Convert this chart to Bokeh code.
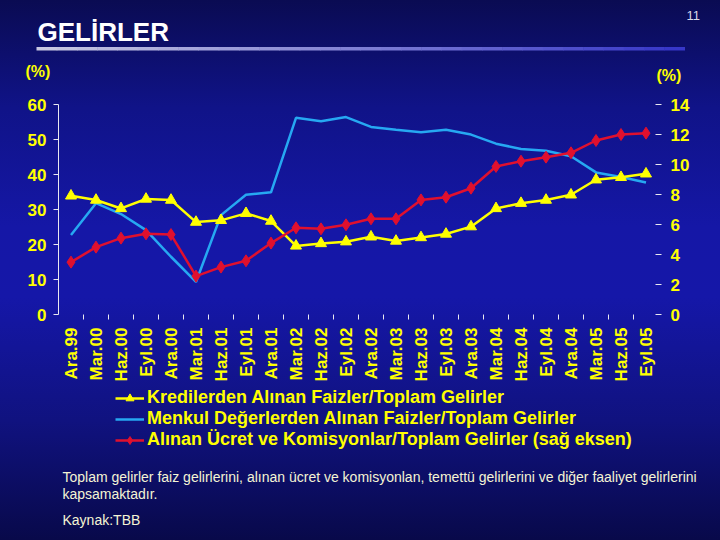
import math
from bokeh.plotting import figure
from bokeh.models import (Range1d, LinearAxis, FixedTicker, Label, BoxAnnotation,
                          Legend, LegendItem)
from bokeh.embed import file_html
from bokeh.resources import INLINE

periods = ["Ara.99", "Mar.00", "Haz.00", "Eyl.00", "Ara.00", "Mar.01", "Haz.01", "Eyl.01",
           "Ara.01", "Mar.02", "Haz.02", "Eyl.02", "Ara.02", "Mar.03", "Haz.03", "Eyl.03",
           "Ara.03", "Mar.04", "Haz.04", "Eyl.04", "Ara.04", "Mar.05", "Haz.05", "Eyl.05"]
kredi = [33.9, 32.7, 30.3, 33.0, 32.7, 26.4, 26.9, 28.9, 26.7, 19.6, 20.3, 20.8,
         22.2, 21.0, 22.0, 23.0, 25.1, 30.3, 31.8, 32.7, 34.2, 38.5, 39.2, 40.2]
menkul = [22.7, 31.8, 28.7, 24.1, 16.5, 9.3, 28.4, 34.2, 34.9, 56.2, 55.2, 56.4,
          53.6, 52.8, 52.1, 52.8, 51.4, 48.8, 47.3, 46.8, 45.2, 40.6, 39.3, 37.7]
ucret = [3.49, 4.49, 5.09, 5.38, 5.33, 2.56, 3.16, 3.58, 4.76, 5.78, 5.71, 5.98,
         6.38, 6.38, 7.64, 7.82, 8.42, 9.87, 10.22, 10.49, 10.78, 11.6, 12.0, 12.09]
left_ticks = [0, 10, 20, 30, 40, 50, 60]
right_ticks = [0, 2, 4, 6, 8, 10, 12, 14]
series_names = ["Kredilerden Alınan Faizler/Toplam Gelirler",
                "Menkul Değerlerden Alınan Faizler/Toplam Gelirler",
                "Alınan Ücret ve Komisyonlar/Toplam Gelirler (sağ eksen)"]
title_text = "GELİRLER"
page_no = "11"
note1 = "Toplam gelirler faiz gelirlerini, alınan ücret ve komisyonlan, temettü gelirlerini ve diğer faaliyet gelirlerini"
note2 = "kapsamaktadır."
source = "Kaynak:TBB"

W, H = 720, 540
# plot area in page pixels: x 58..658, y 104 (top) .. 314 (bottom)
PX_L, PX_R, PX_T, PX_B = 58, 658, 104, 314
n = len(periods)
kx = (PX_R - PX_L) / n
ky_l = (PX_B - PX_T) / 60.0
ky_r = (PX_B - PX_T) / 14.0

YELLOW = "#ffff00"
BLUE = "#26a8f2"
RED = "#e0102e"
FONT = "Liberation Sans"
WHITE_T = "#e8e8f0"

xs = [i + 0.5 for i in range(n)]

p = figure(width=W, height=H, output_backend="svg", toolbar_location=None,
           x_range=Range1d(-PX_L / kx, n + (W - PX_R) / kx),
           y_range=Range1d(-(H - PX_B) / ky_l, PX_B / ky_l),
           x_axis_location=None, y_axis_location=None,
           min_border=0, min_border_left=0, min_border_right=0,
           min_border_top=0, min_border_bottom=0)
p.styles = {"background": "linear-gradient(to bottom, #0a0b52 0%, #101388 20%, "
                          "#1517a6 42%, #1517a8 55%, #10127f 78%, #08094a 100%)"}
p.background_fill_alpha = 0
p.border_fill_alpha = 0
p.outline_line_color = None
p.xgrid.visible = False
p.ygrid.visible = False
p.extra_y_ranges = {"right": Range1d(-(H - PX_B) / ky_r, PX_B / ky_r)}

# left axis
ya = LinearAxis(ticker=FixedTicker(ticks=left_ticks), fixed_location=0, bounds=(0, 60))
ya.axis_line_color = WHITE_T
ya.major_tick_line_color = WHITE_T
ya.major_tick_out = 5
ya.major_tick_in = 0
ya.minor_tick_line_color = None
ya.major_label_standoff = 7
ya.major_label_text_color = YELLOW
ya.major_label_text_font = FONT
ya.major_label_text_font_style = "bold"
ya.major_label_text_font_size = "17px"
p.add_layout(ya, "left")

# right axis
ra = LinearAxis(y_range_name="right", ticker=FixedTicker(ticks=right_ticks),
                fixed_location=n, bounds=(0, 14))
ra.axis_line_color = None
ra.major_tick_line_color = WHITE_T
ra.major_tick_out = 3
ra.major_tick_in = 3
ra.minor_tick_line_color = None
ra.major_label_standoff = 9
ra.major_label_text_color = YELLOW
ra.major_label_text_font = FONT
ra.major_label_text_font_style = "bold"
ra.major_label_text_font_size = "17px"
p.add_layout(ra, "right")

# bottom axis
xa = LinearAxis(ticker=FixedTicker(ticks=xs, minor_ticks=list(range(1, n))),
                fixed_location=0, bounds=(0, n))
xa.major_label_overrides = {x: lab for x, lab in zip(xs, periods)}
xa.major_label_orientation = math.pi / 2
xa.axis_line_color = None
xa.major_tick_line_color = None
xa.major_tick_out = 5
xa.minor_tick_line_color = WHITE_T
xa.minor_tick_out = 5
xa.minor_tick_in = 0
xa.major_label_standoff = 8
xa.major_label_text_color = YELLOW
xa.major_label_text_font = FONT
xa.major_label_text_font_style = "bold"
xa.major_label_text_font_size = "17px"
p.add_layout(xa, "below")

# series
r_blue = p.line(xs, menkul, line_color=BLUE, line_width=2.5)
r_yl = p.line(xs, kredi, line_color=YELLOW, line_width=2.5)
r_ym = p.scatter(xs, kredi, marker="triangle", size=11, fill_color=YELLOW, line_color=YELLOW)
r_rl = p.line(xs, ucret, line_color=RED, line_width=2.5, y_range_name="right")
r_rm = p.scatter(xs, ucret, marker="diamond", size=12, fill_color=RED, line_color=RED,
                 y_range_name="right")

# hidden copies with smaller markers, used only for the legend swatches
lg_ym = p.scatter(xs, kredi, marker="triangle", size=7, fill_color=YELLOW,
                  line_color=YELLOW, visible=False)
lg_rm = p.scatter(xs, ucret, marker="diamond", size=8, fill_color=RED, line_color=RED,
                  y_range_name="right", visible=False)

legend = Legend(items=[LegendItem(label=series_names[0], renderers=[r_yl, lg_ym]),
                       LegendItem(label=series_names[1], renderers=[r_blue]),
                       LegendItem(label=series_names[2], renderers=[r_rl, lg_rm])],
                location=(115, H - 450), orientation="vertical",
                background_fill_alpha=0, border_line_color=None,
                label_text_color=YELLOW, label_text_font=FONT,
                label_text_font_style="bold", label_text_font_size="18px",
                label_height=20, glyph_height=20, glyph_width=29,
                label_standoff=3, spacing=0, padding=0, margin=0)
p.add_layout(legend, "center")


def add_text(xr, yr, text, size, color, bold=False):
    p.add_layout(Label(x=xr, y=H - yr, x_units="screen", y_units="screen", text=text,
                       text_font=FONT, text_font_size=size, text_color=color,
                       text_font_style="bold" if bold else "normal",
                       text_baseline="top", text_align="left"))


add_text(37, 16, title_text, "26px", "white", bold=True)
add_text(686, 10, page_no, "13px", "#d8d8e8")
add_text(25, 62, "(%)", "16px", YELLOW, bold=True)
add_text(656, 66, "(%)", "16px", YELLOW, bold=True)
add_text(62, 468, note1, "14px", "#f4f4d4")
add_text(62, 485, note2, "14px", "#f4f4d4")
add_text(62, 511, source, "14px", "#f4f4d4")

# title underline (gradient from light lavender to blue)
segs = 32
x0, x1 = 36, 684
for k in range(segs):
    t = k / (segs - 1)
    r = int(200 + (55 - 200) * t)
    g = int(200 + (55 - 200) * t)
    b = int(226 + (200 - 226) * t)
    a = x0 + (x1 - x0) * k / segs
    bnd = x0 + (x1 - x0) * (k + 1) / segs
    p.add_layout(BoxAnnotation(left=a, right=bnd + 0.5, top=H - 46.5, bottom=H - 50,
                               left_units="screen", right_units="screen",
                               top_units="screen", bottom_units="screen",
                               fill_color="#%02x%02x%02x" % (r, g, b), fill_alpha=1,
                               line_color=None))

open("out.html", "w").write(file_html(p, INLINE))
